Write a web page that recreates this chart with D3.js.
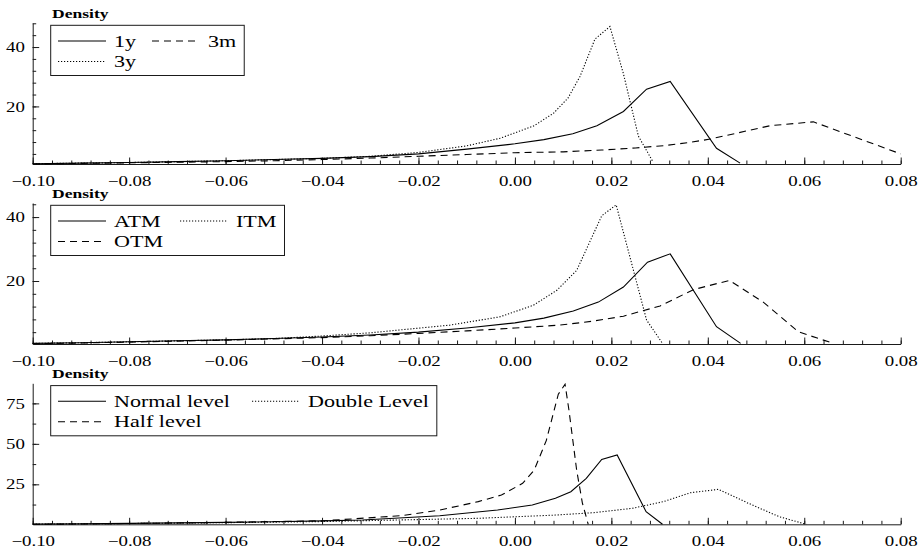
<!DOCTYPE html>
<html>
<head>
<meta charset="utf-8">
<script src="https://cdn.jsdelivr.net/npm/d3@7"></script>
<style>
  body { margin: 0; background: #fff; }
  text { font-family: "Liberation Serif", "Times New Roman", serif; }
</style>
</head>
<body>
<div id="chart"></div>
<script>
// x axis ticks (shared by all three panels)
var xTicks = [-0.10, -0.08, -0.06, -0.04, -0.02, 0.00, 0.02, 0.04, 0.06, 0.08];

// panel 1: maturities
var mat1yX = [-0.100, -0.090, -0.080, -0.070, -0.060, -0.050, -0.040, -0.030, -0.020, -0.010, 0.000, 0.006, 0.012, 0.017, 0.0225, 0.0273, 0.0322, 0.0418, 0.0467];
var mat1yD = [0.7, 0.9, 1.1, 1.4, 1.7, 2.1, 2.5, 3.1, 4.0, 5.6, 7.4, 8.8, 10.8, 13.5, 18.3, 25.8, 28.4, 5.9, 0.9];
var mat3mX = [-0.100, -0.090, -0.080, -0.070, -0.060, -0.050, -0.040, -0.030, -0.020, -0.010, 0.000, 0.010, 0.018, 0.025, 0.031, 0.036, 0.0405, 0.046, 0.0529, 0.0619, 0.080];
var mat3mD = [0.6, 0.8, 1.0, 1.2, 1.4, 1.7, 2.1, 2.6, 3.2, 3.8, 4.4, 4.7, 5.3, 6.0, 6.8, 7.8, 9.0, 11.0, 13.5, 14.8, 4.0];
var mat3yX = [-0.100, -0.090, -0.080, -0.070, -0.060, -0.050, -0.040, -0.030, -0.020, -0.010, -0.003, 0.004, 0.008, 0.011, 0.0135, 0.0166, 0.0197, 0.0225, 0.0256, 0.0286];
var mat3yD = [0.7, 0.9, 1.1, 1.4, 1.7, 2.1, 2.5, 3.2, 4.5, 6.7, 9.3, 13.5, 17.7, 22.8, 30.1, 42.7, 46.9, 31.0, 10.0, 1.4];

// panel 2: moneyness
var atmX = [-0.100, -0.090, -0.080, -0.070, -0.060, -0.050, -0.040, -0.030, -0.020, -0.010, 0.000, 0.006, 0.0121, 0.0173, 0.0225, 0.0275, 0.0322, 0.0418, 0.0468];
var atmD = [0.5, 0.7, 1.0, 1.3, 1.6, 2.0, 2.5, 3.1, 4.0, 5.3, 6.9, 8.4, 10.6, 13.4, 18.1, 25.9, 28.5, 5.7, 0.5];
var itmX = [-0.100, -0.090, -0.080, -0.070, -0.060, -0.050, -0.040, -0.030, -0.0238, -0.0135, -0.0031, 0.0038, 0.0087, 0.0128, 0.0180, 0.0210, 0.0273, 0.0306];
var itmD = [0.5, 0.7, 1.0, 1.3, 1.6, 2.0, 2.8, 3.8, 4.7, 6.2, 8.8, 12.4, 17.1, 23.3, 40.4, 43.8, 7.8, 0.5];
var otmX = [-0.100, -0.090, -0.080, -0.070, -0.060, -0.050, -0.040, -0.030, -0.020, -0.010, 0.000, 0.0093, 0.0160, 0.0225, 0.0301, 0.0370, 0.0445, 0.0515, 0.0588, 0.0660];
var otmD = [0.4, 0.6, 0.9, 1.2, 1.5, 1.9, 2.3, 2.9, 3.6, 4.4, 5.3, 6.2, 7.4, 9.0, 12.2, 17.3, 20.2, 13.4, 4.1, 0.5];

// panel 3: level
var normX = [-0.100, -0.090, -0.080, -0.070, -0.060, -0.050, -0.040, -0.0316, -0.0156, -0.0036, 0.0036, 0.0084, 0.0116, 0.0148, 0.0180, 0.0212, 0.0272, 0.0306];
var normD = [0.4, 0.6, 0.9, 1.2, 1.5, 1.9, 2.4, 3.0, 5.6, 9.1, 12.2, 16.4, 20.4, 28.7, 40.4, 43.1, 8.1, 0.3];
var dblX = [-0.100, -0.080, -0.060, -0.040, -0.0316, -0.0076, 0.0084, 0.0164, 0.0244, 0.0308, 0.0364, 0.0422, 0.0484, 0.0548, 0.0604];
var dblD = [0.4, 0.8, 1.3, 2.0, 2.5, 4.0, 6.0, 7.5, 10.2, 14.3, 19.8, 21.9, 13.3, 5.0, 0.3];
var halfX = [-0.100, -0.090, -0.080, -0.070, -0.060, -0.050, -0.0396, -0.0236, -0.0156, -0.0076, -0.0028, 0.0016, 0.0040, 0.0065, 0.0090, 0.0104, 0.0112, 0.0128, 0.0140, 0.0152];
var halfD = [0.3, 0.5, 0.8, 1.1, 1.5, 2.0, 2.5, 5.6, 9.1, 14.3, 18.4, 25.6, 33.8, 52.0, 80.7, 86.8, 70.9, 33.8, 13.3, 0.3];

// y ticks per panel
var yTicks1 = [20, 40];
var yTicks2 = [20, 40];
var yTicks3 = [25, 50, 75];

// series order: row1 col1, row1 col2, row2 col1 (as in the legends)
var panels = [
  { top: 23, yDomain: [0.6, 48.1], yTicks: yTicks1, yMinor: 4, legendCol2: 152,
    series: [
      { name: "1y", xs: mat1yX, ys: mat1yD, style: "solid" },
      { name: "3m", xs: mat3mX, ys: mat3mD, style: "dashed" },
      { name: "3y", xs: mat3yX, ys: mat3yD, style: "dotted" }
    ] },
  { top: 203, yDomain: [0.3, 44.4], yTicks: yTicks2, yMinor: 4, legendCol2: 180,
    series: [
      { name: "ATM", xs: atmX, ys: atmD, style: "solid" },
      { name: "ITM", xs: itmX, ys: itmD, style: "dotted" },
      { name: "OTM", xs: otmX, ys: otmD, style: "dashed" }
    ] },
  { top: 383.3, yDomain: [0.3, 87.4], yTicks: yTicks3, yMinor: 12.5, legendCol2: 252,
    series: [
      { name: "Normal level", xs: normX, ys: normD, style: "solid" },
      { name: "Double Level", xs: dblX, ys: dblD, style: "dotted" },
      { name: "Half level", xs: halfX, ys: halfD, style: "dashed" }
    ] }
];

var width = 922, height = 552;
var panelH = 141;
var SX = 1.3; // the reference's glyphs are stretched horizontally
var ink = "#1a1a1a";
var dashes = { solid: null, dashed: "7,5", dotted: "1.2,1.8" };

var svg = d3.select("#chart").append("svg")
  .attr("width", width)
  .attr("height", height);

var x = d3.scaleLinear().domain([-0.10, 0.08]).range([32.7, 900.7]);
var xMinor = d3.range(46).map(i => -0.10 + i * 0.004);

panels.forEach(p => {
  var bottom = p.top + panelH;
  var y = d3.scaleLinear().domain(p.yDomain).range([bottom, p.top]);
  var g = svg.append("g");

  // x axis: minor then major ticks, pointing up into the plot
  g.append("g")
    .attr("transform", "translate(0," + bottom + ")")
    .style("color", ink)
    .call(d3.axisBottom(x).tickValues(xMinor).tickSize(-3.5).tickFormat(""))
    .call(a => a.select(".domain").remove());

  var xa = g.append("g")
    .attr("transform", "translate(0," + bottom + ")")
    .style("color", ink)
    .call(d3.axisBottom(x).tickValues(xTicks).tickSizeInner(-6.5).tickSizeOuter(0)
      .tickPadding(11.5).tickFormat(d3.format(".2f")))
    .attr("font-family", null)
    .attr("font-size", 14.5);
  xa.selectAll("text").attr("transform", "scale(" + SX + ",1)").attr("fill", "#000");

  // y axis
  var yMinorTicks = d3.range(p.yMinor, p.yDomain[1], p.yMinor);
  g.append("g")
    .attr("transform", "translate(" + x(-0.10) + ",0)")
    .style("color", ink)
    .call(d3.axisLeft(y).tickValues(yMinorTicks).tickSize(-3.5).tickFormat(""))
    .call(a => a.select(".domain").remove());

  var ya = g.append("g")
    .attr("transform", "translate(" + x(-0.10) + ",0)")
    .style("color", ink)
    .call(d3.axisLeft(y).tickValues(p.yTicks).tickSizeInner(-6.5).tickSizeOuter(0).tickPadding(6))
    .attr("font-family", null)
    .attr("font-size", 14.5);
  ya.selectAll("text").attr("transform", "scale(" + SX + ",1)").attr("fill", "#000");

  // title
  g.append("text")
    .attr("transform", "translate(52," + (p.top - 5) + ") scale(" + SX + ",1)")
    .attr("font-size", 13.5)
    .attr("font-weight", "bold")
    .text("Density");

  // curves
  var line = d3.line().x(d => x(d[0])).y(d => y(d[1]));
  p.series.forEach(s => {
    g.append("path")
      .datum(d3.zip(s.xs, s.ys))
      .attr("fill", "none")
      .attr("stroke", "#000")
      .attr("stroke-width", 1.1)
      .attr("stroke-dasharray", dashes[s.style])
      .attr("d", line);
  });

  // legend
  var lg = g.append("g");
  var box = lg.append("rect")
    .attr("x", 50.7).attr("y", p.top + 2.3)
    .attr("height", 50.2)
    .attr("fill", "#fff")
    .attr("stroke", ink)
    .attr("stroke-width", 1);
  var colX = [58, p.legendCol2];
  var slots = [[0, 0], [1, 0], [0, 1]];
  var right = 0;
  p.series.forEach((s, i) => {
    var cx = colX[slots[i][0]];
    var ry = p.top + 18 + slots[i][1] * 20.5;
    lg.append("line")
      .attr("x1", cx).attr("x2", cx + 48)
      .attr("y1", ry).attr("y2", ry)
      .attr("stroke", "#000")
      .attr("stroke-width", 1.1)
      .attr("stroke-dasharray", dashes[s.style]);
    var t = lg.append("text")
      .attr("transform", "translate(" + (cx + 56) + "," + (ry + 5.5) + ") scale(" + SX + ",1)")
      .attr("font-size", 17)
      .text(s.name);
    right = Math.max(right, cx + 56 + t.node().getComputedTextLength() * SX);
  });
  box.attr("width", right + 8 - 50.7);
});
</script>
</body>
</html>
